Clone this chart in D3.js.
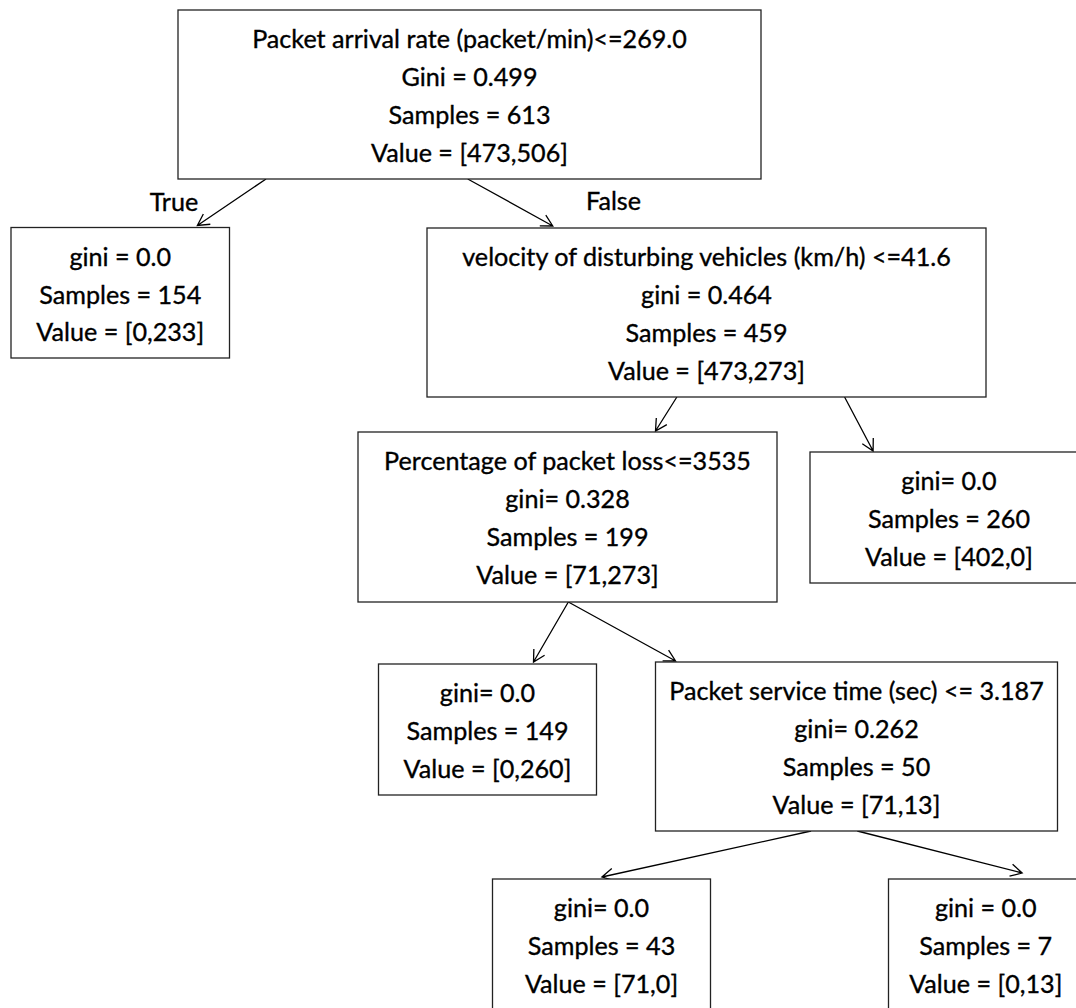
<!DOCTYPE html>
<html><head><meta charset="utf-8">
<script src="https://cdn.jsdelivr.net/npm/d3@7"></script>
<style>html,body{margin:0;padding:0;background:#fff;overflow:hidden}</style>
</head><body>
<svg id="chart" width="1076" height="1008"></svg>
<script>
// ---------- data ----------
const nodeIds = ["root","leafTrue","velocity","loss","leaf260","leaf149","service","leaf43","leaf7"];
const nodeLines = [
  ["Packet arrival rate (packet/min)<=269.0","Gini = 0.499","Samples = 613","Value = [473,506]"],
  ["gini = 0.0","Samples = 154","Value = [0,233]"],
  ["velocity of disturbing vehicles (km/h) <=41.6","gini = 0.464","Samples = 459","Value = [473,273]"],
  ["Percentage of packet loss<=3535","gini= 0.328","Samples = 199","Value = [71,273]"],
  ["gini= 0.0","Samples = 260","Value = [402,0]"],
  ["gini= 0.0","Samples = 149","Value = [0,260]"],
  ["Packet service time (sec) <= 3.187","gini= 0.262","Samples = 50","Value = [71,13]"],
  ["gini= 0.0","Samples = 43","Value = [71,0]"],
  ["gini = 0.0","Samples = 7","Value = [0,13]"]
];
const edgeSource = ["root","root","velocity","velocity","loss","loss","service","service"];
const edgeTarget = ["leafTrue","velocity","loss","leaf260","leaf149","service","leaf43","leaf7"];
const edgeLabels = ["True","False","","","","","",""];

// ---------- layout (diagram geometry, pixels) ----------
const boxLayout = {
  root:     {x0:178,   x1:761,    y0:10,    y1:179},
  leafTrue: {x0:11,    x1:229.5,  y0:227.5, y1:358},
  velocity: {x0:427,   x1:986,    y0:228,   y1:397},
  loss:     {x0:358,   x1:777,    y0:432,   y1:602},
  leaf260:  {x0:810,   x1:1088,   y0:452,   y1:583},
  leaf149:  {x0:378.5, x1:596.5,  y0:664,   y1:795},
  service:  {x0:655.5, x1:1057.5, y0:662,   y1:831},
  leaf43:   {x0:492.5, x1:710.5,  y0:879,   y1:1012},
  leaf7:    {x0:888.5, x1:1083,   y0:879,   y1:1012}
};
// edge start (fraction along source bottom) and end (fraction along target top)
const edgeAnchors = [
  {s:0.151, t:0.853, dy:-2},
  {s:0.497, t:0.225, dy:-2},
  {s:0.447, t:0.710, dy:-1},
  {s:0.747, t:0.227, dy:-1},
  {s:0.502, t:0.711, dy:-2},
  {s:0.502, t:0.050, dy:-1},
  {s:0.387, t:0.502, dy:-2},
  {s:0.502, t:0.687, dy:-6}
];
const labelPos = {True:{x:174, y:211}, False:{x:613.5, y:210}};

const FONT = "Lato, 'Open Sans', 'Liberation Sans', sans-serif";
const FS = 25;
const FIRST = 38.3, STEP = 37.8;

const svg = d3.select("#chart");
svg.append("rect").attr("width",1076).attr("height",1008).attr("fill","#fff");

const nodes = nodeIds.map((id,i)=>({id, lines:nodeLines[i], ...boxLayout[id]}));
const byId = Object.fromEntries(nodes.map(n=>[n.id,n]));

// measure horizontal compression so text widths match the narrow face
const probe = svg.append("text").attr("font-family",FONT).attr("font-size",FS).text(nodeLines[0][0]);
const w = probe.node().getComputedTextLength();
probe.remove();
const sx = 435 / w;

// edges
const edges = edgeSource.map((s,i)=>{
  const a = byId[s], b = byId[edgeTarget[i]], an = edgeAnchors[i];
  const xs = d3.scaleLinear().domain([0,1]).range([a.x0,a.x1]);
  const xt = d3.scaleLinear().domain([0,1]).range([b.x0,b.x1]);
  return {x1:xs(an.s), y1:a.y1, x2:xt(an.t), y2:b.y0 + an.dy, label:edgeLabels[i]};
});
const HEAD = 13, ANG = Math.PI/6.3;
svg.append("g").selectAll("path").data(edges).join("path")
  .attr("fill","none").attr("stroke","#000").attr("stroke-width",1.3)
  .attr("d", e=>{
    const th = Math.atan2(e.y2-e.y1, e.x2-e.x1);
    const p = d3.path();
    p.moveTo(e.x1,e.y1); p.lineTo(e.x2,e.y2);
    p.moveTo(e.x2 - HEAD*Math.cos(th-ANG), e.y2 - HEAD*Math.sin(th-ANG));
    p.lineTo(e.x2,e.y2);
    p.lineTo(e.x2 - HEAD*Math.cos(th+ANG), e.y2 - HEAD*Math.sin(th+ANG));
    return p.toString();
  });

// boxes
const g = svg.append("g").selectAll("g").data(nodes).join("g");
g.append("rect")
  .attr("x",d=>d.x0).attr("y",d=>d.y0)
  .attr("width",d=>d.x1-d.x0).attr("height",d=>d.y1-d.y0)
  .attr("fill","#fff").attr("stroke","#222").attr("stroke-width",1.3);
g.each(function(d){
  const cx = (d.x0+d.x1)/2;
  d3.select(this).selectAll("text").data(d.lines).join("text")
    .attr("transform",(t,i)=>`translate(${cx},${d.y0+FIRST+i*STEP}) scale(${sx},1)`)
    .attr("text-anchor","middle")
    .attr("font-family",FONT).attr("font-size",FS).attr("fill","#000")
    .attr("stroke","#000").attr("stroke-width",0.35)
    .text(t=>t);
});

// edge labels
svg.append("g").selectAll("text").data(edges.filter(e=>e.label)).join("text")
  .attr("transform",e=>`translate(${labelPos[e.label].x},${labelPos[e.label].y}) scale(${sx},1)`)
  .attr("text-anchor","middle")
  .attr("font-family",FONT).attr("font-size",FS).attr("fill","#000")
  .attr("stroke","#000").attr("stroke-width",0.35)
  .text(e=>e.label);
</script>
</body></html>
